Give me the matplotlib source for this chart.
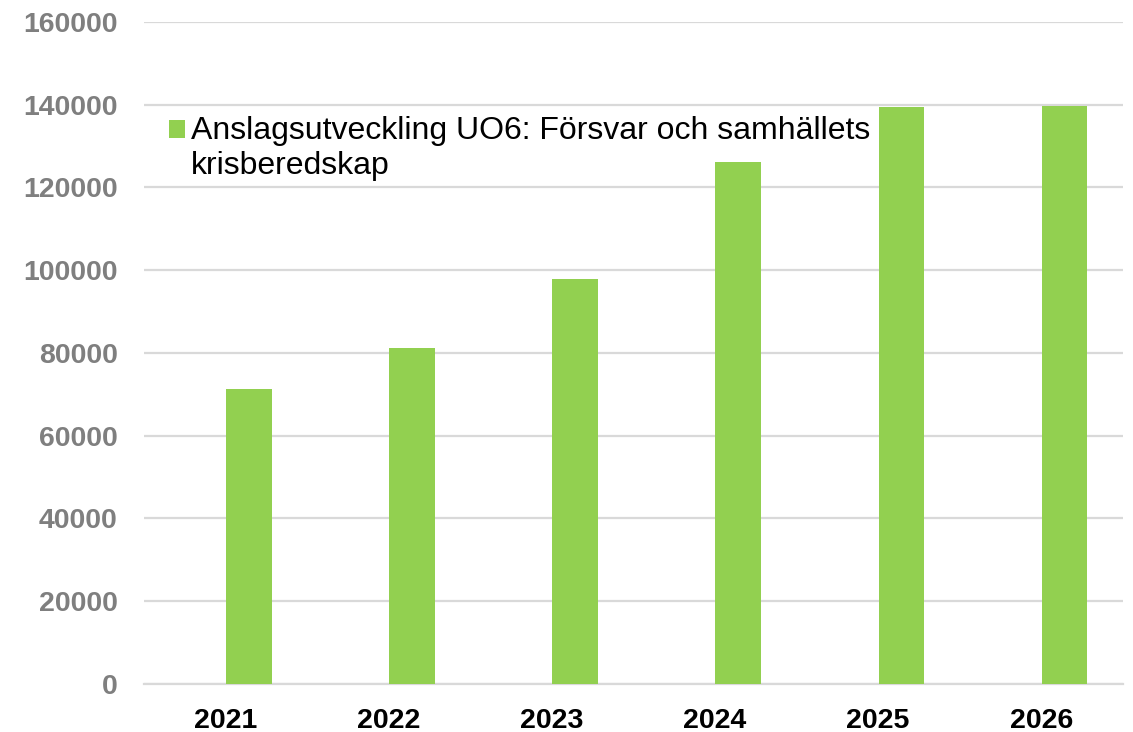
import matplotlib.pyplot as plt
import numpy as np

# Data
years = ["2021", "2022", "2023", "2024", "2025", "2026"]
anslag = [71200, 81100, 97800, 126200, 139500, 139800]
series_label = "Anslagsutveckling UO6: Försvar och samhällets\nkrisberedskap"
y_ticks = [0, 20000, 40000, 60000, 80000, 100000, 120000, 140000, 160000]

plt.rcParams["font.family"] = ["Liberation Sans", "DejaVu Sans"]

fig = plt.figure(figsize=(11.33, 7.32), dpi=100)
ax = fig.add_axes([0.127, 0.0656, 0.864, 0.9044])

x = np.arange(len(years))
ax.bar(x + 0.143, anslag, width=0.28, color="#92D050", label=series_label, zorder=3)

ax.set_xlim(-0.5, len(years) - 0.5)
ax.set_ylim(0, 160000)
ax.set_yticks(y_ticks)
ax.set_yticklabels([str(v) for v in y_ticks])
ax.set_xticks(x)
ax.set_xticklabels(years)

ax.grid(axis="y", color="#d9d9d9", linewidth=1.6, zorder=0)
for s in ["top", "right", "left"]:
    ax.spines[s].set_visible(False)
ax.spines["bottom"].set_color("#d9d9d9")
ax.spines["bottom"].set_linewidth(1.6)

ax.tick_params(axis="both", length=0)
ax.tick_params(axis="y", pad=19, labelsize=20.5, labelcolor="#7f7f7f")
ax.tick_params(axis="x", pad=17, labelsize=20.5, labelcolor="black")
for lbl in ax.get_yticklabels() + ax.get_xticklabels():
    lbl.set_fontweight("bold")

leg = ax.legend(loc="upper left", bbox_to_anchor=(0.0255, 0.858), frameon=False,
                fontsize=23, handlelength=0.5, handleheight=0.5,
                handletextpad=0.19, borderaxespad=0, borderpad=0)
leg.get_texts()[0].set_linespacing(1.22)
# keep the square marker next to the first line of the label
fig.canvas.draw()
patch = leg.get_patches()[0]
patch.set_y(patch.get_y() + 0.5 * 23 * 1.22)

fig.savefig("out.png", dpi=100)
